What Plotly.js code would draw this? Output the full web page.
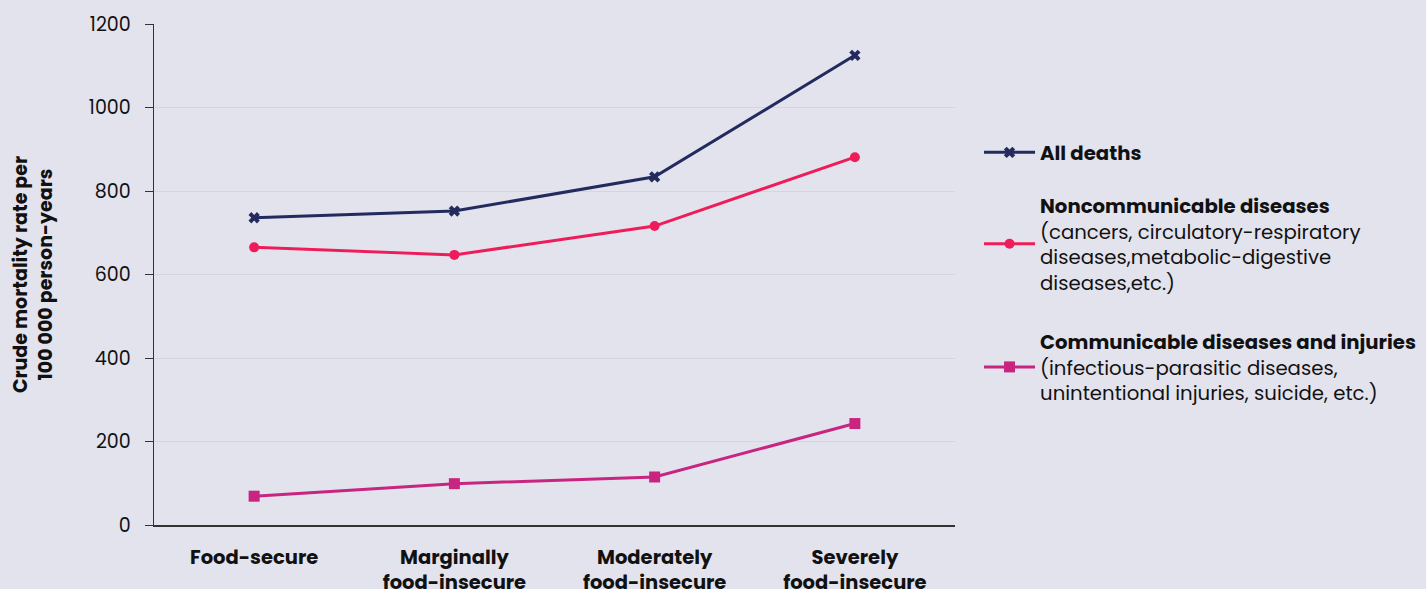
<!DOCTYPE html>
<html>
<head>
<meta charset="utf-8">
<script src="https://cdn.plot.ly/plotly-3.0.1.min.js"></script>
<style>html,body{margin:0;padding:0;background:#E3E3EE;}#chart{width:1426px;height:589px;}</style>
</head>
<body>
<div id="chart"></div>
<script>
const categories = ["Food-secure", "Marginally<br>food-insecure", "Moderately<br>food-insecure", "Severely<br>food-insecure"];
const allDeaths = [736, 752, 834, 1125];
const noncommunicable = [665, 647, 716, 881];
const communicable = [69, 99, 115, 243];
const seriesNames = [
  "<b>All deaths</b>",
  "<b>Noncommunicable diseases</b><br>(cancers, circulatory-respiratory<br>diseases,metabolic-digestive<br>diseases,etc.)",
  "<b>Communicable diseases and injuries</b><br>(infectious-parasitic diseases,<br>unintentional injuries, suicide, etc.)"
];
const yTicks = [0, 200, 400, 600, 800, 1000, 1200];

const font = "Poppins, 'Open Sans', sans-serif";
const traces = [
  {x: categories, y: allDeaths, name: seriesNames[0], legend: "legend", mode: "lines+markers",
   line: {color: "#232A5E", width: 3}, marker: {symbol: "x", size: 10, color: "#232A5E"}},
  {x: categories, y: noncommunicable, name: seriesNames[1], legend: "legend2", mode: "lines+markers",
   line: {color: "#EE1D5A", width: 3}, marker: {symbol: "circle", size: 10, color: "#EE1D5A"}},
  {x: categories, y: communicable, name: seriesNames[2], legend: "legend3", mode: "lines+markers",
   line: {color: "#C82580", width: 3}, marker: {symbol: "square", size: 11, color: "#C82580"}}
];
function legendAt(y) {
  return {x: 1.03, y: y, xanchor: "left", yanchor: "top", bgcolor: "rgba(0,0,0,0)",
          font: {size: 19.7, color: "#111111", family: font}, itemwidth: 51, valign: "middle"};
}
const layout = {
  width: 1426, height: 589,
  paper_bgcolor: "#E3E3EE", plot_bgcolor: "#E3E3EE",
  margin: {l: 154, r: 471, t: 24, b: 64, autoexpand: false},
  font: {family: font, color: "#111111", size: 18},
  showlegend: true,
  legend: legendAt(0.7824),
  legend2: legendAt(0.6766),
  legend3: legendAt(0.4052),
  xaxis: {type: "category", range: [-0.5, 3.5], showgrid: false, showline: true, linecolor: "#333333", linewidth: 1.5,
          ticks: "", ticklabelstandoff: 14, tickfont: {size: 19.5, family: font, weight: "bold", color: "#111111"}, fixedrange: true, automargin: false},
  yaxis: {range: [0, 1200], tickvals: yTicks, showgrid: true, gridcolor: "#D5D5DD", gridwidth: 1,
          showline: true, linecolor: "#333333", linewidth: 1.5, ticks: "outside", ticklen: 8, tickcolor: "#333333",
          ticklabelstandoff: 10,
          tickfont: {size: 19, family: font, color: "#111111"}, zeroline: false, automargin: false,
          title: {text: "<b>Crude mortality rate per<br>100 000 person-years</b>", font: {size: 19, family: font, color: "#111111"}, standoff: 31}}
};
Plotly.newPlot("chart", traces, layout, {displayModeBar: false, staticPlot: true});
</script>
</body>
</html>
